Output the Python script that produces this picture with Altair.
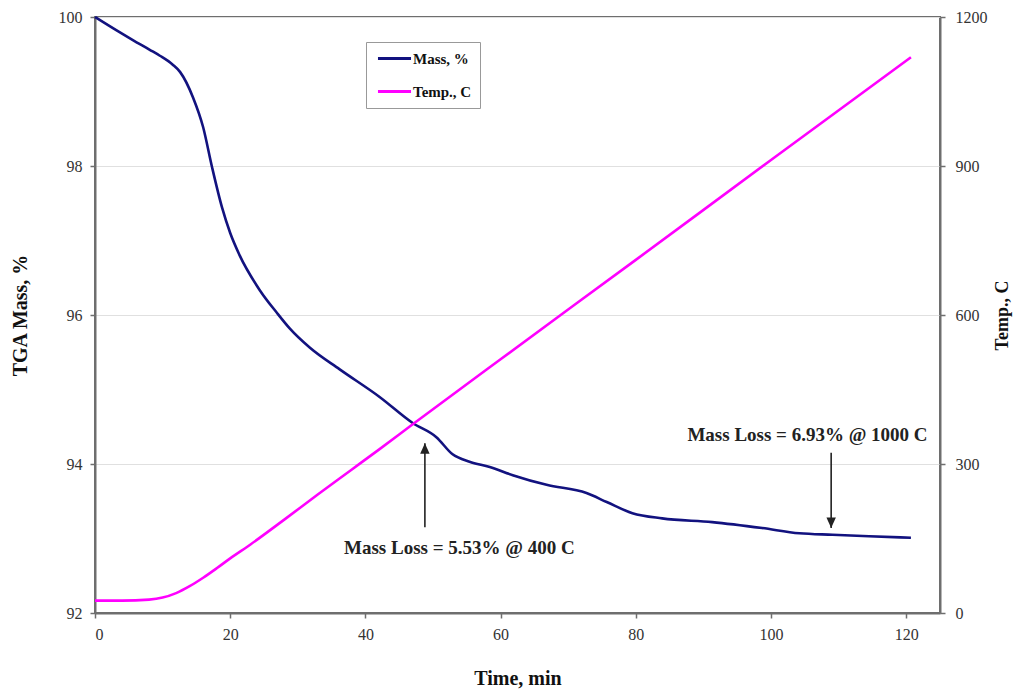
import altair as alt
import pandas as pd

# ---- data ----
mass_time = [0, 3.2, 5.6, 8.1, 9.6, 11.5, 12.6, 14.5, 16.0, 17.3, 18.8, 20.0, 21.4,
             24.4, 26.9, 28.8, 31.8, 36.2, 42.1, 47.0, 50.5, 52.9, 55.4, 58.4, 61.8,
             66.8, 72.7, 75.7, 79.5, 83.9, 91.3, 98.7, 104.2, 109.1, 114.5, 120.7]
mass_vals = [100.0, 99.82, 99.69, 99.56, 99.48, 99.36, 99.26, 98.92, 98.52, 97.99,
             97.44, 97.10, 96.80, 96.33, 96.03, 95.82, 95.56, 95.27, 94.90, 94.55,
             94.36, 94.13, 94.03, 93.96, 93.85, 93.72, 93.61, 93.49, 93.34, 93.27,
             93.22, 93.14, 93.07, 93.05, 93.03, 93.01]

temp_time = [0, 4, 8, 10, 12, 14, 16, 18, 20, 23, 28, 33, 38, 42, 47, 60, 80, 100, 120.7]
temp_vals = [25, 25, 27, 31, 40, 54, 71, 90, 110, 138, 188, 239, 289, 329, 380, 511,
             711, 912, 1119]

series_names = ["Mass, %", "Temp., C"]
series_colors = ["#12127f", "#ff00ff"]

x_ticks = [0, 20, 40, 60, 80, 100, 120]
mass_ticks = [92, 94, 96, 98, 100]
temp_ticks = [0, 300, 600, 900, 1200]

# annotations (in data units: time, mass %)
ann_text = ["Mass Loss = 5.53% @ 400 C", "Mass Loss = 6.93% @ 1000 C"]
ann_text_x = [53.9, 105.4]
ann_text_y = [92.87, 94.39]
arrow_x = [48.8, 108.9]
arrow_tail = [93.15, 94.15]
arrow_tip = [94.28, 93.14]
arrow_dir = ["up", "down"]

FONT = "Liberation Serif"

mass_df = pd.DataFrame({"t": mass_time, "v": mass_vals, "s": series_names[0]})
temp_df = pd.DataFrame({"t": temp_time, "v": temp_vals, "s": series_names[1]})
ann_df = pd.DataFrame({"text": ann_text, "x": ann_text_x, "y": ann_text_y})
arr_df = pd.DataFrame({"x": arrow_x, "tail": arrow_tail, "tip": arrow_tip, "dir": arrow_dir})

x_enc = alt.X("t:Q", scale=alt.Scale(domain=[0, 125], nice=False, zero=False),
              axis=alt.Axis(values=x_ticks, title="Time, min", grid=False, format="d",
                            labelPadding=8, titlePadding=26, titleFontSize=20))
color_enc = alt.Color("s:N", scale=alt.Scale(domain=series_names, range=series_colors),
                      legend=alt.Legend(title=None, orient="none", legendX=271, legendY=25,
                                        symbolType="M-2.36,0H2.36", symbolSize=196,
                                        symbolOffset=12, symbolStrokeWidth=3,
                                        labelFontSize=15, labelFontWeight="bold",
                                        labelFont=FONT, labelColor="#111",
                                        rowPadding=16, labelOffset=10,
                                        padding=8, strokeColor="#999", fillColor="white"))

mass_scale = alt.Scale(domain=[92, 100], nice=False, zero=False)

mass_line = alt.Chart(mass_df).mark_line(strokeWidth=2.6, interpolate="monotone").encode(
    x=x_enc,
    y=alt.Y("v:Q", scale=mass_scale,
            axis=alt.Axis(orient="left", values=mass_ticks, title="TGA Mass, %", format="d",
                          grid=True, gridColor="#e0e0e0", labelPadding=8, titlePadding=28,
                          titleFontSize=20)),
    color=color_enc,
)

arrow_rules = alt.Chart(arr_df).mark_rule(color="#222", strokeWidth=1.6).encode(
    x="x:Q", y=alt.Y("tail:Q", scale=mass_scale), y2="tip:Q"
)
arrow_up = alt.Chart(arr_df).transform_filter(alt.datum.dir == "up").mark_point(
    shape="M0,0L-0.45,1L0.45,1Z", size=440, filled=True, color="#222", opacity=1
).encode(x="x:Q", y=alt.Y("tip:Q", scale=mass_scale))
arrow_down = alt.Chart(arr_df).transform_filter(alt.datum.dir == "down").mark_point(
    shape="M0,0L-0.45,-1L0.45,-1Z", size=440, filled=True, color="#222", opacity=1
).encode(x="x:Q", y=alt.Y("tip:Q", scale=mass_scale))

ann = alt.Chart(ann_df).mark_text(font=FONT, fontSize=19, fontWeight="bold",
                                  color="#222", align="center", baseline="middle").encode(
    x="x:Q", y=alt.Y("y:Q", scale=mass_scale), text="text:N"
)

mass_group = alt.layer(mass_line, arrow_rules, arrow_up, arrow_down, ann)

temp_line = alt.Chart(temp_df).mark_line(strokeWidth=2.6, interpolate="monotone").encode(
    x=x_enc,
    y=alt.Y("v:Q", scale=alt.Scale(domain=[0, 1200], nice=False),
            axis=alt.Axis(orient="right", values=temp_ticks, title="Temp., C", format="d",
                          grid=False, labelPadding=10, titlePadding=24, titleAngle=270,
                          titleFontSize=18)),
    color=color_enc,
)

chart = alt.layer(mass_group, temp_line).resolve_scale(y="independent").properties(
    width=845, height=596,
    padding={"left": 95, "top": 17, "right": 73, "bottom": 79},
    autosize=alt.AutoSizeParams(type="none"),
).configure(font=FONT).configure_view(
    stroke="#6e6e6e", strokeWidth=2
).configure_axis(
    labelFont=FONT, labelFontSize=16, labelColor="#333",
    titleFont=FONT, titleFontSize=16, titleFontWeight="bold", titleColor="#111",
    domainColor="#6e6e6e", domainWidth=2, tickColor="#6e6e6e", tickSize=5, tickWidth=1.5,
)

chart.save("out.html", embed_options={"renderer": "svg", "actions": False})
